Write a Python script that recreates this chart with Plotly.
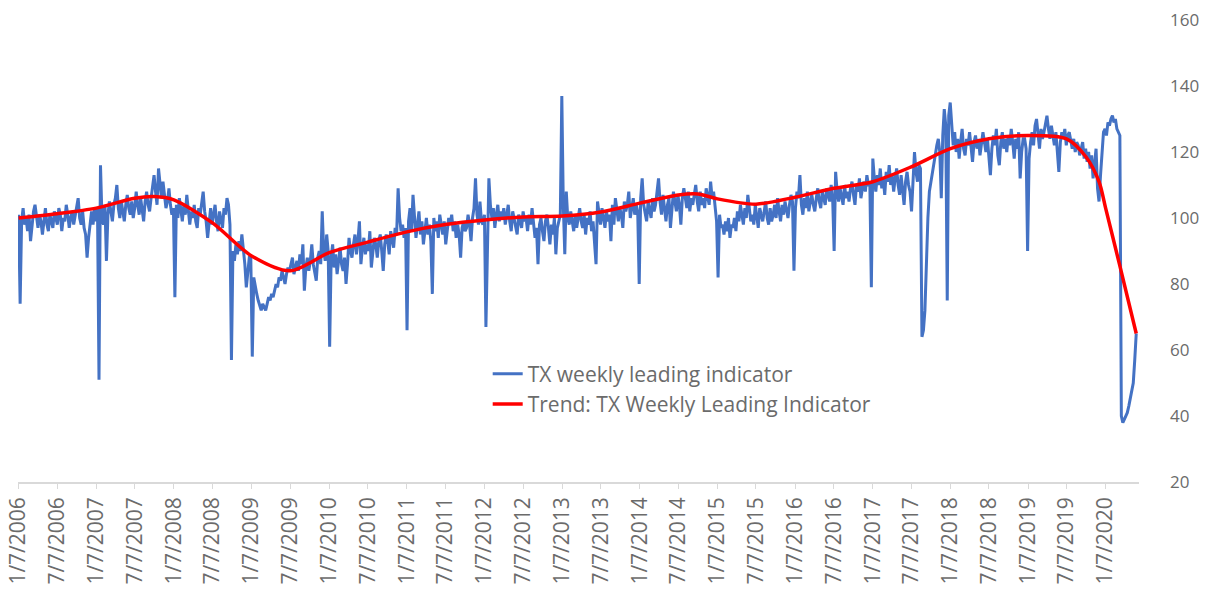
import pandas as pd
import plotly.graph_objects as go

start_date = "2006-01-07"

w2006 = [101, 74, 99, 103, 98, 100, 96, 101, 93, 98, 102, 104, 100,
         97, 101, 99, 95, 100, 103, 98, 96, 101, 99, 97, 102, 100,
         98, 103, 101, 96, 100, 99, 104, 101, 97, 100, 102, 98, 101,
         103, 106, 100, 98, 102, 97, 95, 88, 94, 99, 102, 98, 103]
w2007 = [99, 103, 51, 116, 100, 98, 104, 87, 101, 105, 102, 99, 104,
         106, 110, 103, 100, 105, 102, 99, 104, 107, 103, 101, 105, 100,
         103, 108, 104, 101, 106, 103, 99, 105, 108, 104, 102, 106, 110,
         113, 108, 104, 115, 109, 106, 111, 107, 103, 105, 109, 104, 101]
w2008 = [103, 76, 104, 100, 106, 102, 99, 104, 101, 107, 103, 98, 102,
         100, 104, 99, 97, 103, 101, 105, 108, 102, 99, 94, 100, 103,
         98, 101, 104, 99, 96, 102, 100, 97, 103, 101, 106, 104, 98,
         57, 90, 87, 92, 89, 93, 90, 95, 91, 86, 79, 85, 88]
w2009 = [88, 58, 82, 79, 77, 75, 73, 72, 74, 73, 72, 74, 76,
         75, 77, 76, 78, 80, 79, 82, 81, 84, 82, 80, 83, 85,
         84, 86, 88, 83, 85, 87, 84, 89, 86, 92, 78, 85, 88,
         84, 87, 92, 86, 83, 81, 88, 90, 86, 102, 90, 87, 95]
w2010 = [90, 61, 88, 92, 85, 89, 83, 87, 91, 86, 84, 88, 80,
         86, 94, 90, 88, 92, 95, 89, 93, 99, 86, 91, 94, 89,
         92, 90, 96, 85, 91, 94, 92, 88, 93, 95, 90, 84, 92,
         95, 93, 89, 96, 94, 91, 97, 95, 109, 100, 96, 98, 94]
w2011 = [97, 66, 99, 103, 96, 107, 100, 94, 98, 102, 95, 99, 92,
         97, 100, 95, 98, 93, 77, 100, 96, 99, 94, 101, 97, 95,
         99, 92, 96, 100, 98, 101, 96, 99, 94, 98, 95, 88, 97,
         99, 96, 97, 101, 98, 93, 100, 103, 112, 101, 98, 105, 99]
w2012 = [98, 101, 67, 96, 112, 104, 100, 103, 97, 101, 104, 99, 102,
         100, 103, 98, 101, 104, 99, 96, 102, 100, 98, 95, 101, 99,
         97, 102, 99, 100, 96, 101, 98, 103, 99, 94, 97, 86, 98,
         100, 96, 93, 99, 101, 97, 92, 98, 95, 100, 89, 97, 99]
w2013 = [101, 137, 104, 89, 108, 100, 98, 102, 99, 96, 101, 97, 100,
         103, 99, 97, 101, 95, 100, 98, 102, 96, 99, 93, 86, 105,
         101, 98, 103, 100, 97, 102, 99, 101, 93, 104, 98, 106, 102,
         99, 103, 101, 97, 105, 102, 104, 108, 100, 103, 106, 101, 104]
w2014 = [102, 80, 106, 112, 104, 101, 99, 105, 103, 100, 106, 102, 104,
         108, 112, 105, 101, 107, 103, 99, 104, 106, 97, 103, 108, 105,
         102, 107, 104, 98, 106, 109, 105, 103, 108, 102, 106, 104, 107,
         110, 105, 102, 108, 104, 106, 103, 109, 107, 104, 111, 106, 108]
w2015 = [104, 99, 82, 101, 97, 98, 95, 99, 96, 100, 94, 98, 97,
         100, 96, 102, 99, 104, 101, 98, 103, 100, 107, 102, 99, 101,
         98, 104, 100, 97, 103, 101, 99, 102, 105, 100, 98, 103, 99,
         101, 104, 100, 106, 102, 99, 104, 101, 105, 103, 100, 104, 107]
w2016 = [105, 84, 103, 108, 106, 113, 104, 101, 106, 103, 108, 102, 105,
         107, 104, 102, 106, 109, 105, 103, 108, 106, 104, 109, 107, 105,
         110, 106, 90, 114, 108, 105, 109, 107, 104, 110, 106, 108, 105,
         109, 111, 107, 104, 110, 108, 112, 106, 109, 111, 108, 113, 110]
w2017 = [110, 79, 118, 112, 108, 113, 110, 115, 109, 112, 107, 114, 111,
         116, 110, 113, 108, 112, 115, 110, 107, 113, 109, 104, 111, 114,
         110, 108, 102, 113, 120, 114, 111, 116, 115, 64, 66, 72, 89,
         100, 108, 111, 114, 117, 119, 122, 124, 120, 106, 125, 133, 128]
w2018 = [75, 131, 135, 127, 122, 126, 120, 124, 118, 123, 127, 121, 119,
         124, 122, 126, 120, 117, 123, 125, 121, 124, 119, 122, 126, 123,
         120, 124, 118, 113, 121, 125, 122, 127, 119, 116, 123, 126, 121,
         124, 120, 125, 122, 127, 123, 118, 124, 121, 126, 112, 120, 124]
w2019 = [124, 121, 90, 118, 123, 126, 122, 128, 130, 125, 121, 127, 124,
         126, 129, 131, 127, 124, 128, 125, 122, 126, 119, 114, 123, 126,
         124, 127, 122, 125, 126, 123, 121, 124, 120, 123, 122, 119, 121,
         123, 118, 121, 117, 120, 115, 119, 112, 117, 121, 109, 105, 113]
w2020 = [120, 126, 127, 125, 129, 128, 130, 131, 129, 130, 127, 126,
         125, 40, 38, 39, 40, 41, 43, 45, 48, 50, 57, 65]

for row in [w2006, w2007, w2008, w2009, w2010, w2011, w2012, w2013,
            w2014, w2015, w2016, w2017, w2018, w2019]:
    assert len(row) == 52, len(row)

weekly = (w2006 + w2007 + w2008 + w2009 + w2010 + w2011 + w2012 + w2013
          + w2014 + w2015 + w2016 + w2017 + w2018 + w2019 + w2020)
weekly_dates = pd.date_range(start_date, periods=len(weekly), freq="7D")

trend_dates = ["2006-01-07", "2006-07-07", "2007-01-07", "2007-07-07", "2007-10-07",
               "2008-01-07", "2008-07-07", "2009-01-07", "2009-07-07", "2010-01-07",
               "2010-07-07", "2011-01-07", "2011-07-07", "2012-01-07", "2012-07-07",
               "2013-01-07", "2013-07-07", "2014-01-07", "2014-07-07", "2014-10-07",
               "2015-01-07", "2015-07-07", "2016-01-07", "2016-07-07", "2017-01-07",
               "2017-07-07", "2018-01-07", "2018-07-07", "2019-01-07", "2019-07-07",
               "2019-10-07", "2019-12-07", "2020-01-07", "2020-03-12", "2020-05-30"]
trend_values = [100, 101.3, 103, 106, 106.5,
                105.5, 98.5, 88.5, 84, 89.5,
                92.7, 95.8, 98, 99.4, 100.3,
                100.6, 101.8, 104.5, 107, 107.3,
                105.8, 104.2, 106.3, 109, 111,
                115.5, 121, 124, 125, 124,
                118.5, 111, 103, 86, 65]

tick_dates = ["2006-01-07", "2006-07-07", "2007-01-07", "2007-07-07", "2008-01-07",
              "2008-07-07", "2009-01-07", "2009-07-07", "2010-01-07", "2010-07-07",
              "2011-01-07", "2011-07-07", "2012-01-07", "2012-07-07", "2013-01-07",
              "2013-07-07", "2014-01-07", "2014-07-07", "2015-01-07", "2015-07-07",
              "2016-01-07", "2016-07-07", "2017-01-07", "2017-07-07", "2018-01-07",
              "2018-07-07", "2019-01-07", "2019-07-07", "2020-01-07"]
tick_labels = ["1/7/2006", "7/7/2006", "1/7/2007", "7/7/2007", "1/7/2008",
               "7/7/2008", "1/7/2009", "7/7/2009", "1/7/2010", "7/7/2010",
               "1/7/2011", "7/7/2011", "1/7/2012", "7/7/2012", "1/7/2013",
               "7/7/2013", "1/7/2014", "7/7/2014", "1/7/2015", "7/7/2015",
               "1/7/2016", "7/7/2016", "1/7/2017", "7/7/2017", "1/7/2018",
               "7/7/2018", "1/7/2019", "7/7/2019", "1/7/2020"]

y_ticks = [20, 40, 60, 80, 100, 120, 140, 160]

FONT = "Open Sans"
GREY = "#6b6b6b"

fig = go.Figure()
fig.add_trace(go.Scatter(
    x=weekly_dates, y=weekly, mode="lines",
    name="TX weekly leading indicator",
    line=dict(color="#4472C4", width=3),
))
fig.add_trace(go.Scatter(
    x=trend_dates, y=trend_values, mode="lines",
    name="Trend: TX Weekly Leading Indicator",
    line=dict(color="#FF0000", width=3.5, shape="spline", smoothing=0.8),
))

fig.update_layout(
    width=1208, height=598,
    margin=dict(l=18, r=69, t=20, b=116, autoexpand=False),
    paper_bgcolor="white", plot_bgcolor="white",
    font=dict(family=FONT, color=GREY),
    showlegend=True,
    legend=dict(x=0.419, y=0.278, xanchor="left", yanchor="top",
                bgcolor="rgba(0,0,0,0)", font=dict(size=21, color=GREY, family=FONT),
                tracegroupgap=0),
    xaxis=dict(
        type="date", range=["2006-01-04", "2020-06-12"], automargin=False,
        tickmode="array", tickvals=tick_dates, ticktext=tick_labels,
        tickangle=-90, tickfont=dict(size=21, color=GREY, family=FONT),
        ticklabeloverflow="allow",
        showline=True, linecolor="#d9d9d9", linewidth=1.5,
        ticks="outside", ticklen=5, tickcolor="#d9d9d9",
        showgrid=False, zeroline=False,
    ),
    yaxis=dict(
        side="right", range=[20, 160], tickmode="array", tickvals=y_ticks,
        automargin=False, ticklabeloverflow="allow",
        tickfont=dict(size=17, color=GREY, family=FONT),
        showgrid=False, showline=False, zeroline=False, ticks="",
        ticklabelstandoff=30,
    ),
)

# remove the browser's default 8px page margin so the figure sits at the top-left corner
fig.write_html("out.html", config={"displayModeBar": False},
               post_script="document.body.style.margin='0';")
